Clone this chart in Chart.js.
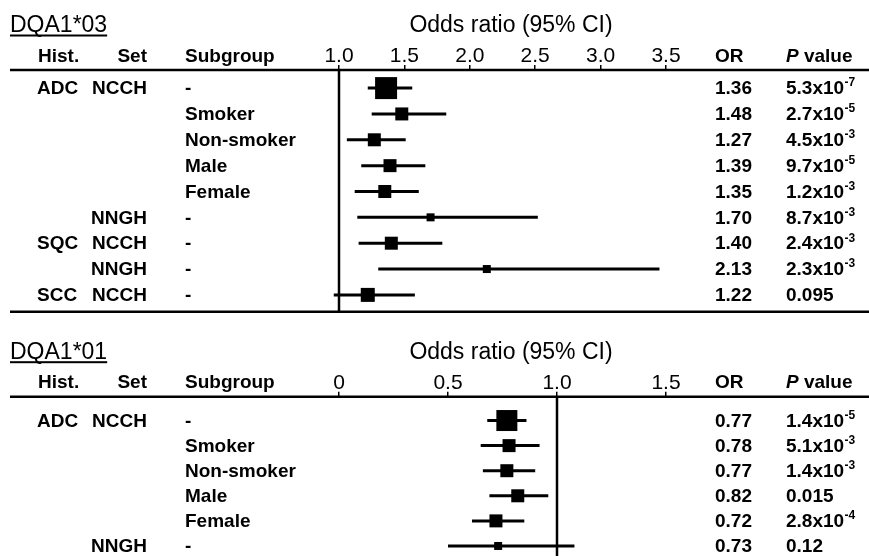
<!DOCTYPE html>
<html>
<head>
<meta charset="utf-8">
<script src="https://cdn.jsdelivr.net/npm/chart.js@4.4.1/dist/chart.umd.min.js"></script>
<style>
  html, body { margin: 0; padding: 0; background: #fff; }
  #wrap { position: relative; width: 869px; height: 556px; overflow: hidden; }
  canvas { position: absolute; left: 0; display: block; }
  #chart03 { top: 0; }
  #chart01 { top: 320px; }
</style>
</head>
<body>
<div id="wrap">
  <canvas id="chart03" width="869" height="320"></canvas>
  <canvas id="chart01" width="869" height="236"></canvas>
</div>
<script>
// DQA1*03
const hist03 = ['ADC', '', '', '', '', '', 'SQC', '', 'SCC'];
const set03 = ['NCCH', '', '', '', '', 'NNGH', 'NCCH', 'NNGH', 'NCCH'];
const sub03 = ['-', 'Smoker', 'Non-smoker', 'Male', 'Female', '-', '-', '-', '-'];
const or03 = [1.36, 1.48, 1.27, 1.39, 1.35, 1.70, 1.40, 2.13, 1.22];
const lo03 = [1.22, 1.25, 1.06, 1.17, 1.12, 1.14, 1.15, 1.30, 0.96];
const hi03 = [1.56, 1.82, 1.51, 1.66, 1.61, 2.52, 1.79, 3.45, 1.58];
const pMant03 = ['5.3', '2.7', '4.5', '9.7', '1.2', '8.7', '2.4', '2.3', '0.095'];
const pExp03 = ['-7', '-5', '-3', '-5', '-3', '-3', '-3', '-3', ''];
const ticks03 = ['1.0', '1.5', '2.0', '2.5', '3.0', '3.5'];

// DQA1*01
const hist01 = ['ADC', '', '', '', '', ''];
const set01 = ['NCCH', '', '', '', '', 'NNGH'];
const sub01 = ['-', 'Smoker', 'Non-smoker', 'Male', 'Female', '-'];
const or01 = [0.77, 0.78, 0.77, 0.82, 0.72, 0.73];
const lo01 = [0.68, 0.65, 0.66, 0.69, 0.61, 0.50];
const hi01 = [0.86, 0.92, 0.90, 0.96, 0.85, 1.08];
const pMant01 = ['1.4', '5.1', '1.4', '0.015', '2.8', '0.12'];
const pExp01 = ['-5', '-3', '-3', '', '-4', ''];
const ticks01 = ['0', '0.5', '1.0', '1.5'];

// box side in px (study weight)
const box03 = [22, 13, 13, 13, 13, 8, 13, 8, 14];
const box01 = [21, 13, 13, 13, 13, 8];

const BOLD = 'bold 19px "Liberation Sans", Arial, sans-serif';
const REG = '23px "Liberation Sans", Arial, sans-serif';

function drawP(ctx, mant, exp, x, y) {
  ctx.font = BOLD;
  if (!exp) { ctx.fillText(mant, x, y); return; }
  const s = mant + 'x10';
  ctx.fillText(s, x, y);
  const w = ctx.measureText(s).width;
  ctx.font = 'bold 12px "Liberation Sans", Arial, sans-serif';
  ctx.fillText(exp, x + w + 0.5, y - 6);
}

function panelPlugin(p) {
  return {
    id: 'panel' + p.name,
    beforeDatasetsDraw(chart) {
      const { ctx, chartArea, scales: { x } } = chart;
      ctx.save();
      ctx.strokeStyle = '#000';
      ctx.lineWidth = 2.5;
      ctx.beginPath();
      ctx.moveTo(10, chartArea.top); ctx.lineTo(chart.width, chartArea.top);
      if (p.closeBottom) {
        ctx.moveTo(10, chartArea.bottom); ctx.lineTo(chart.width, chartArea.bottom);
      }
      const rx = x.getPixelForValue(p.ref);
      ctx.moveTo(rx, chartArea.top); ctx.lineTo(rx, chartArea.bottom);
      ctx.stroke();
      ctx.restore();
    },
    afterDraw(chart) {
      const { ctx, chartArea, scales: { y } } = chart;
      const top = chartArea.top;
      ctx.save();
      ctx.fillStyle = '#000';
      ctx.textBaseline = 'middle';

      // titles
      ctx.font = REG;
      ctx.textAlign = 'left';
      ctx.fillText(p.name, 10, top - 44.5);
      const tw = ctx.measureText(p.name).width;
      ctx.fillRect(10, top - 35.5, tw, 2);
      ctx.textAlign = 'center';
      ctx.fillText('Odds ratio (95% CI)', 511, top - 44);

      // header row
      const hy = top - 13.5;
      ctx.font = BOLD;
      ctx.textAlign = 'left';
      ctx.fillText('Hist.', 38, hy);
      ctx.fillText('Subgroup', 185, hy);
      ctx.fillText('OR', 715, hy);
      ctx.font = 'italic bold 19px "Liberation Sans", Arial, sans-serif';
      ctx.fillText('P', 786, hy);
      const pw = ctx.measureText('P').width;
      ctx.font = BOLD;
      ctx.fillText(' value', 786 + pw, hy);
      ctx.textAlign = 'right';
      ctx.fillText('Set', 147, hy);

      // rows
      p.sub.forEach((sub, i) => {
        const ry = y.getPixelForValue(i) + 1;
        ctx.font = BOLD;
        ctx.textAlign = 'left';
        ctx.fillText(p.hist[i], 37, ry);
        ctx.fillText(sub, 185, ry);
        ctx.fillText(p.or[i].toFixed(2), 715, ry);
        drawP(ctx, p.pMant[i], p.pExp[i], 786, ry);
        ctx.font = BOLD;
        ctx.textAlign = 'right';
        ctx.fillText(p.set[i], 147, ry);
      });
      ctx.restore();
    }
  };
}

function makePanel(id, p) {
  const ciSets = p.or.map((v, i) => ({
    type: 'line',
    data: [{ x: p.lo[i], y: i }, { x: p.hi[i], y: i }],
    borderColor: '#000',
    borderWidth: 3,
    pointRadius: 0,
    clip: false
  }));
  const boxSet = {
    type: 'scatter',
    data: p.or.map((v, i) => ({ x: v, y: i })),
    pointStyle: 'rect',
    pointRadius: p.box.map(s => s / Math.SQRT2),
    backgroundColor: '#000',
    borderWidth: 0,
    clip: false
  };
  new Chart(document.getElementById(id), {
    type: 'scatter',
    data: { datasets: [...ciSets, boxSet] },
    options: {
      responsive: false,
      animation: false,
      events: [],
      layout: { autoPadding: false, padding: { left: 339, right: 203, top: 0, bottom: p.padBottom } },
      plugins: { legend: { display: false }, tooltip: { enabled: false } },
      scales: {
        x: {
          type: 'linear',
          position: 'top',
          min: p.min,
          max: p.max,
          afterFit: s => { s.height = p.axisH; },
          border: { display: false },
          grid: { drawOnChartArea: false, drawTicks: true, tickLength: 5, color: '#000', lineWidth: 1.5 },
          ticks: {
            stepSize: 0.5,
            color: '#000',
            padding: -2,
            maxRotation: 0,
            font: { family: '"Liberation Sans", Arial, sans-serif', size: 21, lineHeight: 1 },
            callback: v => p.tickLabels[Math.round((v - p.min) / 0.5)]
          }
        },
        y: { type: 'linear', reverse: true, min: p.yMin, max: p.yMax, display: false }
      }
    },
    plugins: [panelPlugin(p)]
  });
}

makePanel('chart03', {
  name: 'DQA1*03', hist: hist03, set: set03, sub: sub03, or: or03, lo: lo03, hi: hi03,
  pMant: pMant03, pExp: pExp03, tickLabels: ticks03, box: box03,
  min: 1.0, max: 3.5, ref: 1.0, yMin: -0.7, yMax: 8.65, axisH: 70, padBottom: 8.3, closeBottom: true
});

makePanel('chart01', {
  name: 'DQA1*01', hist: hist01, set: set01, sub: sub01, or: or01, lo: lo01, hi: hi01,
  pMant: pMant01, pExp: pExp01, tickLabels: ticks01, box: box01,
  min: 0, max: 1.5, ref: 1.0, yMin: -0.95, yMax: 5.4, axisH: 76.7, padBottom: 0, closeBottom: false
});
</script>
</body>
</html>
